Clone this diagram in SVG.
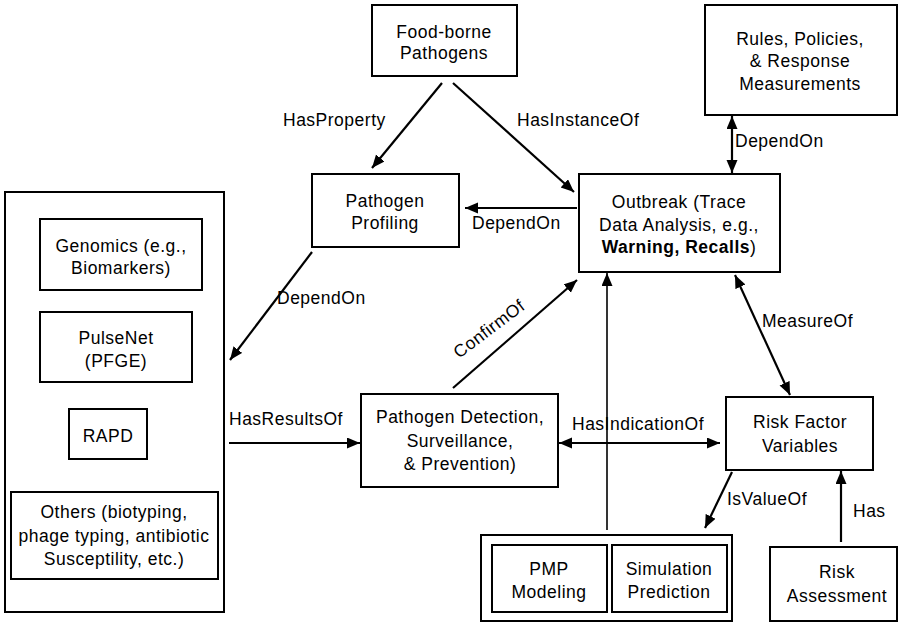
<svg xmlns="http://www.w3.org/2000/svg" width="899" height="622" viewBox="0 0 899 622">
  <style>
    .box { fill: #fff; stroke: #000; stroke-width: 2; }
    .t { font-family: "Liberation Sans", Arial, sans-serif; font-size: 17.5px; letter-spacing: 0.5px; fill: #000; }
    .c { text-anchor: middle; }
    .edge { stroke: #000; stroke-width: 2.2; fill: none; }
    .thin { stroke: #000; stroke-width: 1.6; fill: none; }
  </style>
  <defs>
    <marker id="arrow" markerUnits="userSpaceOnUse" markerWidth="14" markerHeight="12" refX="13" refY="5.5" orient="auto-start-reverse">
      <path d="M0,0 L13,5.5 L0,11 z" fill="#000"/>
    </marker>
  </defs>
  <rect width="899" height="622" fill="#fff"/>

  <!-- nodes -->
  <g id="food-borne-pathogens">
    <rect class="box" x="372" y="5" width="145" height="71"/>
    <text class="t c" x="444" y="38">Food-borne</text>
    <text class="t c" x="444" y="59">Pathogens</text>
  </g>

  <g id="rules-policies">
    <rect class="box" x="705" y="5" width="192" height="110"/>
    <text class="t c" x="800" y="45">Rules, Policies,</text>
    <text class="t c" x="800" y="67">&amp; Response</text>
    <text class="t c" x="800" y="90">Measurements</text>
  </g>

  <g id="pathogen-profiling">
    <rect class="box" x="312" y="174" width="147" height="73"/>
    <text class="t c" x="385" y="207">Pathogen</text>
    <text class="t c" x="385" y="229">Profiling</text>
  </g>

  <g id="outbreak">
    <rect class="box" x="579" y="174" width="201" height="98"/>
    <text class="t c" x="679" y="208">Outbreak (Trace</text>
    <text class="t c" x="679" y="231">Data Analysis, e.g.,</text>
    <text class="t c" x="679" y="253"><tspan font-weight="bold">Warning, Recalls</tspan>)</text>
  </g>

  <g id="typing-methods">
    <rect class="box" x="5" y="192" width="219" height="420"/>
    <g id="genomics">
      <rect class="box" x="40" y="219" width="162" height="71"/>
      <text class="t c" x="121" y="252">Genomics (e.g.,</text>
      <text class="t c" x="121" y="274">Biomarkers)</text>
    </g>
    <g id="pulsenet">
      <rect class="box" x="40" y="312" width="152" height="70"/>
      <text class="t c" x="116" y="344">PulseNet</text>
      <text class="t c" x="116" y="367">(PFGE)</text>
    </g>
    <g id="rapd">
      <rect class="box" x="69" y="409" width="78" height="50"/>
      <text class="t c" x="108" y="442">RAPD</text>
    </g>
    <g id="others">
      <rect class="box" x="11" y="492" width="207" height="87"/>
      <text class="t c" x="114" y="518">Others (biotyping,</text>
      <text class="t c" x="114" y="542">phage typing, antibiotic</text>
      <text class="t c" x="114" y="565">Susceptility, etc.)</text>
    </g>
  </g>

  <g id="pathogen-detection">
    <rect class="box" x="361" y="394" width="197" height="93"/>
    <text class="t c" x="460" y="423">Pathogen Detection,</text>
    <text class="t c" x="460" y="447">Surveillance,</text>
    <text class="t c" x="460" y="470">&amp; Prevention)</text>
  </g>

  <g id="risk-factor-variables">
    <rect class="box" x="726" y="397" width="147" height="73"/>
    <text class="t c" x="800" y="428">Risk Factor</text>
    <text class="t c" x="800" y="452">Variables</text>
  </g>

  <g id="modeling-group">
    <rect class="box" x="481" y="535" width="251" height="86"/>
    <g id="pmp-modeling">
      <rect class="box" x="492" y="545" width="115" height="67"/>
      <text class="t c" x="549" y="575">PMP</text>
      <text class="t c" x="549" y="598">Modeling</text>
    </g>
    <g id="simulation-prediction">
      <rect class="box" x="612" y="545" width="115" height="67"/>
      <text class="t c" x="669" y="575">Simulation</text>
      <text class="t c" x="669" y="598">Prediction</text>
    </g>
  </g>

  <g id="risk-assessment">
    <rect class="box" x="770" y="547" width="127" height="74"/>
    <text class="t c" x="837" y="578">Risk</text>
    <text class="t c" x="837" y="602">Assessment</text>
  </g>

  <!-- connectors -->
  <g id="connectors">
    <line class="edge" x1="442" y1="83" x2="372" y2="168" marker-end="url(#arrow)"/>
    <line class="edge" x1="453" y1="83" x2="574" y2="192" marker-end="url(#arrow)"/>
    <line class="edge" x1="577" y1="208" x2="465" y2="208" marker-end="url(#arrow)"/>
    <line class="edge" x1="732" y1="116" x2="732" y2="173" marker-start="url(#arrow)" marker-end="url(#arrow)"/>
    <line class="edge" x1="312" y1="252" x2="230" y2="360" marker-end="url(#arrow)"/>
    <line class="edge" x1="229" y1="443" x2="360" y2="443" marker-end="url(#arrow)"/>
    <line class="edge" x1="453" y1="388" x2="577" y2="280" marker-end="url(#arrow)"/>
    <line class="thin" x1="607" y1="530" x2="607" y2="273" marker-end="url(#arrow)"/>
    <line class="edge" x1="559" y1="443" x2="720" y2="443" marker-start="url(#arrow)" marker-end="url(#arrow)"/>
    <line class="edge" x1="735" y1="275" x2="790" y2="395" marker-start="url(#arrow)" marker-end="url(#arrow)"/>
    <line class="edge" x1="732" y1="472" x2="705" y2="528" marker-end="url(#arrow)"/>
    <line class="edge" x1="841" y1="542" x2="841" y2="471" marker-end="url(#arrow)"/>

    <text class="t" x="283" y="126">HasProperty</text>
    <text class="t" x="517" y="126">HasInstanceOf</text>
    <text class="t" x="472" y="229">DependOn</text>
    <text class="t" x="735" y="147">DependOn</text>
    <text class="t" x="277" y="304">DependOn</text>
    <text class="t" x="229" y="425">HasResultsOf</text>
    <text class="t" transform="translate(459,359) rotate(-37)">ConfirmOf</text>
    <text class="t" x="572" y="430">HasIndicationOf</text>
    <text class="t" x="762" y="327">MeasureOf</text>
    <text class="t" x="727" y="505">IsValueOf</text>
    <text class="t" x="853" y="517">Has</text>
  </g>
</svg>
